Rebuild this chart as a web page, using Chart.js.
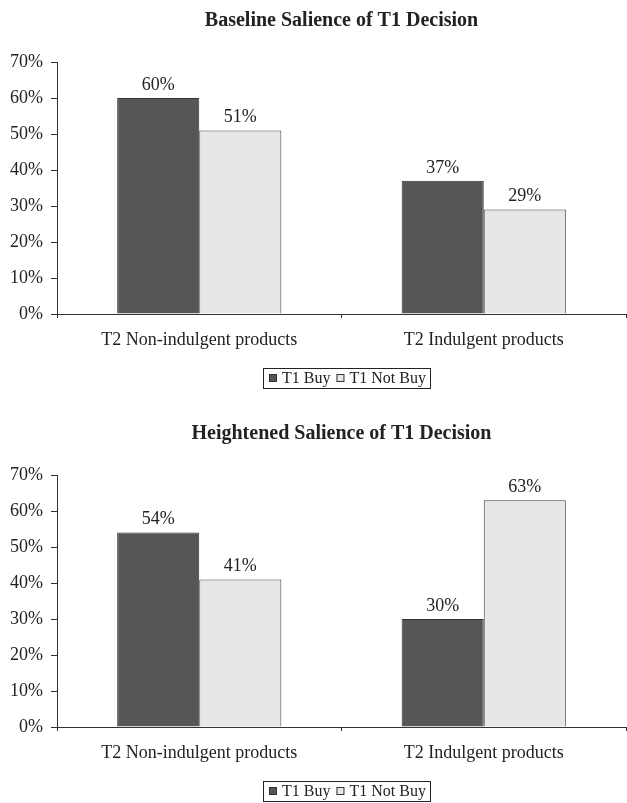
<!DOCTYPE html>
<html>
<head>
<meta charset="utf-8">
<script src="https://cdn.jsdelivr.net/npm/chart.js@4.4.0/dist/chart.umd.min.js"></script>
<style>
  html, body { margin: 0; padding: 0; background: #fff; overflow: hidden; width: 627px; height: 803px; }
  .wrap { position: absolute; left: 0; width: 627px; height: 413px; }
  #w1 { top: 0; }
  #w2 { top: 413px; }
</style>
</head>
<body>
<div class="wrap" id="w1"><canvas id="c1"></canvas></div>
<div class="wrap" id="w2"><canvas id="c2"></canvas></div>
<script>
const categories = ["T2 Non-indulgent products", "T2 Indulgent products"];
const seriesNames = ["T1 Buy", "T1 Not Buy"];
const baselineBuy = [60, 37];
const baselineNotBuy = [51, 29];
const heightenedBuy = [54, 30];
const heightenedNotBuy = [41, 63];
const yTicks = [0, 10, 20, 30, 40, 50, 60, 70];
const titles = ["Baseline Salience of T1 Decision", "Heightened Salience of T1 Decision"];

const FONT = "'Liberation Serif', 'Times New Roman', serif";
const DARK = "#555658", LIGHT = "#e6e7e9";

const valueLabels = {
  id: 'valueLabels',
  afterDatasetsDraw(chart) {
    const ctx = chart.ctx;
    ctx.save();
    ctx.font = "18px " + FONT;
    ctx.fillStyle = "#222";
    ctx.textAlign = "center";
    ctx.textBaseline = "bottom";
    chart.data.datasets.forEach((ds, i) => {
      const meta = chart.getDatasetMeta(i);
      meta.data.forEach((el, j) => {
        ctx.fillText(ds.data[j] + "%", el.x, el.y - 4);
      });
    });
    ctx.restore();
  }
};

// Boxed legend below the x axis, drawn from the datasets
const boxedLegend = {
  id: 'boxedLegend',
  afterDraw(chart) {
    const ctx = chart.ctx;
    const area = chart.chartArea;
    ctx.save();
    ctx.font = "16px " + FONT;
    const sq = 8, gapSq = 5, gapItem = 6, padL = 6, padR = 4;
    const items = chart.data.datasets.map(ds => ({ text: ds.label, color: ds.backgroundColor, w: ctx.measureText(ds.label).width }));
    let total = padL + padR + gapItem * (items.length - 1);
    items.forEach(it => { total += sq + gapSq + it.w; });
    const cx = (area.left + area.right) / 2 + 5;
    const cy = area.bottom + 64;
    const left = Math.round(cx - total / 2);
    ctx.strokeStyle = "#222";
    ctx.lineWidth = 1;
    ctx.strokeRect(left + 0.5, Math.round(cy - 10) + 0.5, Math.round(total), 20);
    let x = left + padL;
    ctx.textBaseline = "middle";
    ctx.textAlign = "left";
    items.forEach(it => {
      ctx.fillStyle = it.color;
      ctx.fillRect(x, Math.round(cy - sq / 2), sq, sq);
      ctx.strokeStyle = "#333";
      ctx.strokeRect(x + 0.5, Math.round(cy - sq / 2) + 0.5, sq - 1, sq - 1);
      x += sq + gapSq;
      ctx.fillStyle = "#222";
      ctx.fillText(it.text, x, cy + 1);
      x += it.w + gapItem;
    });
    ctx.restore();
  }
};

function makeChart(id, title, buy, notBuy) {
  return new Chart(document.getElementById(id), {
    type: 'bar',
    data: {
      labels: categories,
      datasets: [
        { label: seriesNames[0], data: buy, backgroundColor: DARK, borderColor: "#333", borderWidth: 1 },
        { label: seriesNames[1], data: notBuy, backgroundColor: LIGHT, borderColor: "#444", borderWidth: 1 }
      ]
    },
    options: {
      responsive: true,
      maintainAspectRatio: false,
      animation: false,
      devicePixelRatio: 1,
      datasets: { bar: { categoryPercentage: 0.577, barPercentage: 1.0 } },
      layout: { padding: { left: 0, right: 1, top: 0, bottom: 51 } },
      plugins: {
        title: {
          display: true, text: title, color: "#222", fullSize: false,
          font: { family: FONT, size: 20, weight: 'bold' },
          padding: { top: 9, bottom: 29 }
        },
        legend: { display: false },
        tooltip: { enabled: false }
      },
      scales: {
        x: {
          afterFit(scale) { scale.height = 48; },
          grid: { display: true, drawOnChartArea: false, offset: true, color: "#333", tickLength: 4, tickColor: "#333" },
          border: { display: true, color: "#333", width: 1 },
          ticks: { color: "#222", font: { family: FONT, size: 18 }, padding: 11, maxRotation: 0 }
        },
        y: {
          min: 0, max: 70,
          afterBuildTicks(scale) { scale.ticks = yTicks.map(v => ({ value: v })); },
          afterFit(scale) { scale.width = 57; },
          grid: { display: true, drawOnChartArea: false, color: "#333", tickLength: 6, tickColor: "#333" },
          border: { display: true, color: "#333", width: 1 },
          ticks: { color: "#222", font: { family: FONT, size: 18 }, padding: 8, callback: v => v + "%" }
        }
      }
    },
    plugins: [valueLabels, boxedLegend]
  });
}

makeChart('c1', titles[0], baselineBuy, baselineNotBuy);
makeChart('c2', titles[1], heightenedBuy, heightenedNotBuy);
</script>
</body>
</html>
